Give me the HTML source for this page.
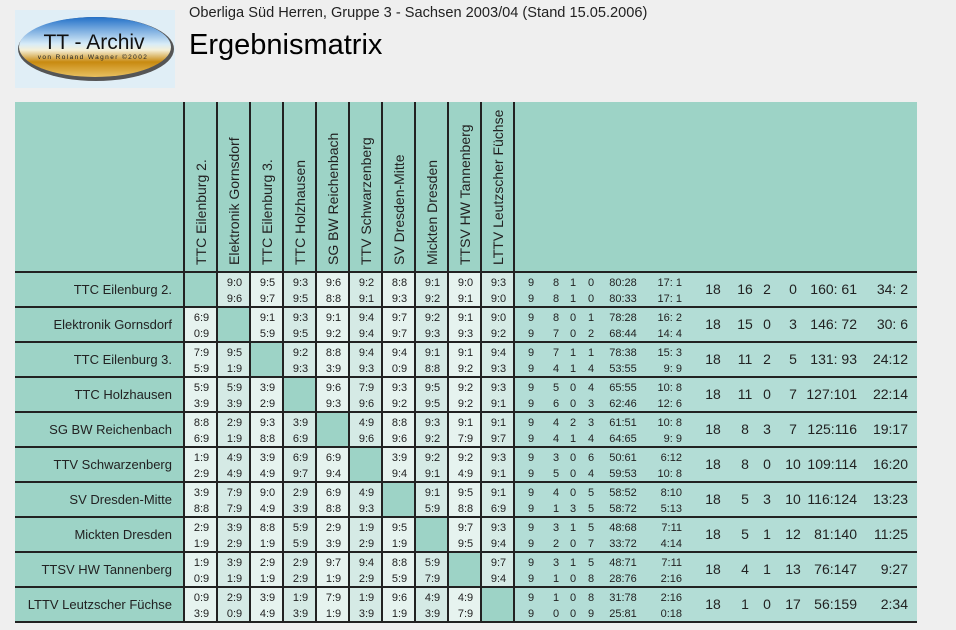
<!DOCTYPE html>
<html><head><meta charset="utf-8"><style>
body{margin:0;width:956px;height:630px;background:#efefef;font-family:"Liberation Sans",sans-serif;position:relative;overflow:hidden}
.a{position:absolute}
.hl{position:absolute;left:15px;width:902px;height:2px;background:#222}
.vl{position:absolute;width:2px;background:#222}
.c{position:absolute;width:33px;height:35px;font-size:11px;color:#222;text-align:center}
.c div{position:absolute;left:0;width:33px}
.nm{position:absolute;left:15px;width:157px;text-align:right;font-size:13px;color:#222}
.hd{position:absolute;top:265px;transform-origin:0 0;transform:rotate(-90deg);font-size:14px;color:#222;white-space:nowrap}
.s{position:absolute;font-size:11px;color:#222;white-space:pre}
.b{position:absolute;font-size:14px;color:#222;white-space:pre}
</style></head><body>
<div class="a" style="left:15px;top:10px;width:160px;height:78px;background:#e0eef6"></div>
<svg class="a" style="left:15px;top:10px" width="160" height="78">
<defs><linearGradient id="g" x1="0" y1="0" x2="0" y2="1">
<stop offset="0" stop-color="#2270c8"/><stop offset="0.45" stop-color="#d8ecf8"/><stop offset="0.55" stop-color="#f5f0d8"/><stop offset="0.75" stop-color="#c88a10"/><stop offset="1" stop-color="#e8c060"/></linearGradient></defs>
<ellipse cx="81" cy="39" rx="78" ry="32" fill="#555"/>
<ellipse cx="80" cy="37" rx="76" ry="30" fill="url(#g)"/>
<text x="79" y="39" text-anchor="middle" font-family="Liberation Sans" font-size="21" fill="#111">TT - Archiv</text>
<text x="78" y="49" text-anchor="middle" font-family="Liberation Sans" font-size="6.5" letter-spacing="1.4" fill="#222">von Roland Wagner   ©2002</text>
</svg>
<div class="a" style="left:189px;top:5px;font-size:14.6px;color:#222">Oberliga Süd Herren, Gruppe 3 - Sachsen 2003/04 (Stand 15.05.2006)</div>
<div class="a" style="left:189px;top:29px;font-size:29px;color:#000">Ergebnismatrix</div>
<div class="a" style="left:15px;top:102px;width:902px;height:170px;background:#9dd3c6"></div>
<div class="a" style="left:15px;top:272px;width:170px;height:350px;background:#9dd3c6"></div>
<div class="a" style="left:515px;top:272px;width:402px;height:350px;background:#b3ddd6"></div>
<div id="root"></div>
<script>
var T=["TTC Eilenburg 2.","Elektronik Gornsdorf","TTC Eilenburg 3.","TTC Holzhausen","SG BW Reichenbach","TTV Schwarzenberg","SV Dresden-Mitte","Mickten Dresden","TTSV HW Tannenberg","LTTV Leutzscher Füchse"];
var M=[
"- 9:0/9:6 9:5/9:7 9:3/9:5 9:6/8:8 9:2/9:1 8:8/9:3 9:1/9:2 9:0/9:1 9:3/9:0",
"6:9/0:9 - 9:1/5:9 9:3/9:5 9:1/9:2 9:4/9:4 9:7/9:7 9:2/9:3 9:1/9:3 9:0/9:2",
"7:9/5:9 9:5/1:9 - 9:2/9:3 8:8/3:9 9:4/9:3 9:4/0:9 9:1/8:8 9:1/9:2 9:4/9:3",
"5:9/3:9 5:9/3:9 3:9/2:9 - 9:6/9:3 7:9/9:6 9:3/9:2 9:5/9:5 9:2/9:2 9:3/9:1",
"8:8/6:9 2:9/1:9 9:3/8:8 3:9/6:9 - 4:9/9:6 8:8/9:6 9:3/9:2 9:1/7:9 9:1/9:7",
"1:9/2:9 4:9/4:9 3:9/4:9 6:9/9:7 6:9/9:4 - 3:9/9:4 9:2/9:1 9:2/4:9 9:3/9:1",
"3:9/8:8 7:9/7:9 9:0/4:9 2:9/3:9 6:9/8:8 4:9/9:3 - 9:1/5:9 9:5/8:8 9:1/6:9",
"2:9/1:9 3:9/2:9 8:8/1:9 5:9/5:9 2:9/3:9 1:9/2:9 9:5/1:9 - 9:7/9:5 9:3/9:4",
"1:9/0:9 3:9/1:9 2:9/1:9 2:9/2:9 9:7/1:9 9:4/2:9 8:8/5:9 5:9/7:9 - 9:7/9:4",
"0:9/3:9 2:9/0:9 3:9/4:9 1:9/3:9 7:9/1:9 1:9/3:9 9:6/1:9 4:9/3:9 4:9/7:9 -"];
var S=[
["9 8 1 0 80:28 17: 1","9 8 1 0 80:33 17: 1","18 16 2 0 160: 61 34: 2"],
["9 8 0 1 78:28 16: 2","9 7 0 2 68:44 14: 4","18 15 0 3 146: 72 30: 6"],
["9 7 1 1 78:38 15: 3","9 4 1 4 53:55 9: 9","18 11 2 5 131: 93 24:12"],
["9 5 0 4 65:55 10: 8","9 6 0 3 62:46 12: 6","18 11 0 7 127:101 22:14"],
["9 4 2 3 61:51 10: 8","9 4 1 4 64:65 9: 9","18 8 3 7 125:116 19:17"],
["9 3 0 6 50:61 6:12","9 5 0 4 59:53 10: 8","18 8 0 10 109:114 16:20"],
["9 4 0 5 58:52 8:10","9 1 3 5 58:72 5:13","18 5 3 10 116:124 13:23"],
["9 3 1 5 48:68 7:11","9 2 0 7 33:72 4:14","18 5 1 12 81:140 11:25"],
["9 3 1 5 48:71 7:11","9 1 0 8 28:76 2:16","18 4 1 13 76:147 9:27"],
["9 1 0 8 31:78 2:16","9 0 0 9 25:81 0:18","18 1 0 17 56:159 2:34"]];
var h="";
function sp(cls,x,y,t,al){var st=al=="r"?"right:"+(956-x)+"px":al=="c"?"left:"+(x-40)+"px;width:80px;text-align:center":"left:"+x+"px";
return '<div class="'+cls+'" style="'+st+';top:'+y+'px">'+t+'</div>';}
for(var j=0;j<10;j++){var cx=185+33*j;h+='<div class="hd" style="left:'+(cx+8)+'px">'+T[j]+'</div>';}
for(var i=0;i<10;i++){var y=272+35*i;
h+='<div class="nm" style="top:'+(y+10)+'px">'+T[i]+'</div>';
var cs=M[i].split(" ");
for(var j=0;j<10;j++){var x=185+33*j;var bg=(i==j)?"#9dd3c6":(j%2==0?"#e6f3ef":"#d5eae5");
var v=cs[j];var inner="";if(v!="-"){var p=v.split("/");inner='<div style="top:5px">'+p[0]+'</div><div style="top:21px">'+p[1]+'</div>';}
h+='<div class="c" style="left:'+x+'px;top:'+y+'px;background:'+bg+'">'+inner+'</div>';}
for(var k=0;k<2;k++){var a=S[i][k].split(" ");var yy=y+5+16*k;
if(a.length==7){a=[a[0],a[1],a[2],a[3],a[4],a[5]+" "+a[6]];}
h+=sp("s",531,yy,a[0],"c")+sp("s",556,yy,a[1],"c")+sp("s",573,yy,a[2],"c")+sp("s",591,yy,a[3],"c")+sp("s",623,yy,a[4],"c")+sp("s",682,yy,a[5],"r");}
var b=S[i][2].split(" ");var r=[b[0],b[1],b[2],b[3]];var rest=b.slice(4);
var gp,pt;if(rest.length==4){gp=rest[0]+" "+rest[1];pt=rest[2]+" "+rest[3];}else if(rest.length==3){if(rest[0].slice(-1)==":"){gp=rest[0]+" "+rest[1];pt=rest[2];}else{gp=rest[0];pt=rest[1]+" "+rest[2];}}else{gp=rest[0];pt=rest[1];}
var by=y+9;
h+=sp("b",713,by,r[0],"c")+sp("b",745,by,r[1],"c")+sp("b",767,by,r[2],"c")+sp("b",793,by,r[3],"c")+sp("b",857,by,gp,"r")+sp("b",908,by,pt,"r");
}
for(var i=0;i<=10;i++){h+='<div class="hl" style="top:'+(271+35*i)+'px"></div>';}
for(var j=0;j<=10;j++){h+='<div class="vl" style="left:'+(183+33*j)+'px;top:102px;height:521px"></div>';}
document.getElementById("root").innerHTML=h;
</script>
</body></html>
